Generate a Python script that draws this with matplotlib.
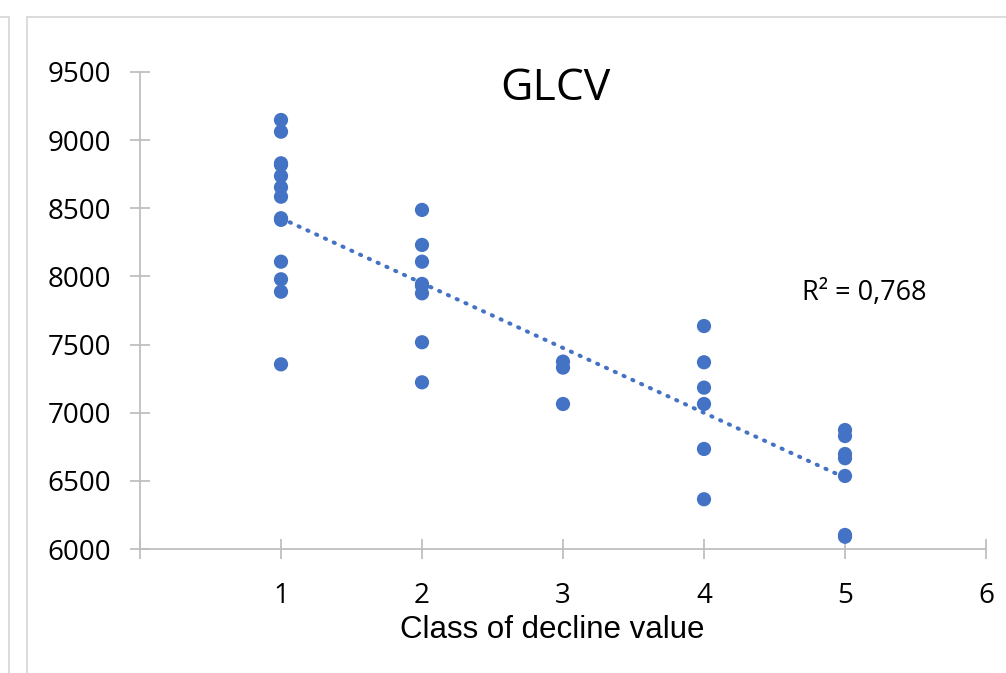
import matplotlib
matplotlib.use("Agg")
import matplotlib.pyplot as plt
from matplotlib.lines import Line2D
import numpy as np

# Data
class_1 = [9148, 9062, 8830, 8818, 8737, 8654, 8585, 8427, 8415, 8108, 7979, 7888, 7355]
class_2 = [8488, 8231, 8108, 7945, 7930, 7876, 7517, 7223]
class_3 = [7375, 7331, 7064]
class_4 = [7636, 7370, 7184, 7064, 6734, 6365]
class_5 = [6873, 6829, 6697, 6666, 6536, 6103, 6090]
classes = [1, 2, 3, 4, 5]
title_text = "GLCV"
xlabel_text = "Class of decline value"
r2_text = "R² = 0,768"
xticks = [1, 2, 3, 4, 5, 6]
yticks = [6000, 6500, 7000, 7500, 8000, 8500, 9000, 9500]

groups = [class_1, class_2, class_3, class_4, class_5]
xs = np.concatenate([[c] * len(g) for c, g in zip(classes, groups)]).astype(float)
ys = np.concatenate(groups).astype(float)

blue = "#4472C4"
axis_gray = "#BFBFBF"

fig = plt.figure(figsize=(10.06, 6.73), dpi=100)
ax = fig.add_axes([140 / 1006, 1 - 549 / 673, (986 - 140) / 1006, (549 - 72) / 673])

ax.scatter(xs, ys, s=105, color=blue, edgecolors="none", zorder=3)

# linear trendline
slope, intercept = np.polyfit(xs, ys, 1)
tx = np.array([min(classes), max(classes)], dtype=float)
ax.plot(tx, slope * tx + intercept, color=blue, linewidth=2.9,
        linestyle=(0, (0.3, 2.1)), dash_capstyle="round", zorder=2)

ax.set_xlim(0, 6)
ax.set_ylim(6000, 9500)
for s in ["top", "right"]:
    ax.spines[s].set_visible(False)
for s in ["left", "bottom"]:
    ax.spines[s].set_color(axis_gray)
    ax.spines[s].set_linewidth(1.3)
ax.set_yticks(yticks)
ax.set_xticks([0] + xticks)
ax.set_xticklabels([""] + [str(t) for t in xticks])
ax.tick_params(axis="both", direction="inout", length=14, width=1.3, color=axis_gray,
               labelsize=20, labelcolor="black")
ax.tick_params(axis="y", pad=14)
ax.tick_params(axis="x", pad=17)
for lab in ax.get_xticklabels() + ax.get_yticklabels():
    lab.set_fontfamily("Open Sans")

ax.text(552 / 1006, 1 - 630 / 673, xlabel_text, transform=fig.transFigure,
        ha="center", va="center", fontsize=22.5, family="Liberation Sans")
ax.text(555 / 1006, 1 - 89 / 673, title_text, transform=fig.transFigure,
        ha="center", va="center", fontsize=32, family="Open Sans")
ax.text(864 / 1006, 1 - 293 / 673, r2_text, transform=fig.transFigure,
        ha="center", va="center", fontsize=19.5, family="Open Sans")

# outer frame lines
frame_col = "#D9D9D9"
fig.add_artist(Line2D([27 / 1006, 27 / 1006], [0, 1 - 17 / 673], transform=fig.transFigure,
                      color=frame_col, linewidth=1.3))
fig.add_artist(Line2D([27 / 1006, 1], [1 - 17 / 673, 1 - 17 / 673], transform=fig.transFigure,
                      color=frame_col, linewidth=1.3))
fig.add_artist(Line2D([9 / 1006, 9 / 1006], [0, 1 - 17 / 673], transform=fig.transFigure,
                      color=frame_col, linewidth=1.3))
fig.add_artist(Line2D([0, 9 / 1006], [1 - 17 / 673, 1 - 17 / 673], transform=fig.transFigure,
                      color=frame_col, linewidth=1.3))

fig.savefig("out.png", dpi=100)
